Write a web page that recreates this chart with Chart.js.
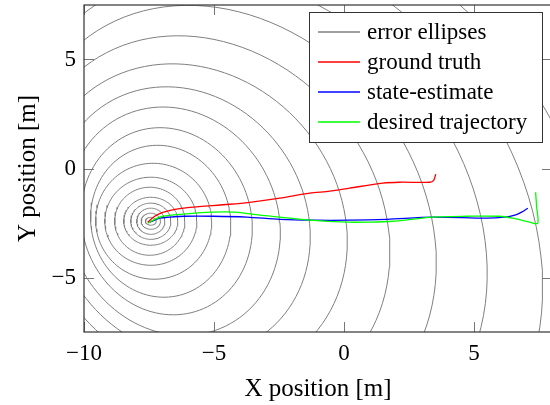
<!DOCTYPE html>
<html lang="en">
<head>
<meta charset="UTF-8">
<title>Error ellipses</title>
<script src="https://cdn.jsdelivr.net/npm/chart.js"></script>
<style>
  html, body { margin: 0; padding: 0; background: #fff; overflow: hidden; }
</style>
</head>
<body>
<canvas id="chart" width="556" height="405"></canvas>
<script>
const xTicks = [-10, -5, 0, 5];
const yTicks = [-5, 0, 5];

// error ellipses: centre, semi-axes (m), tilt (deg)
const ellCx  = [-7.43, -7.43, -7.43, -7.43, -7.43, -7.47, -7.43, -7.32, -7.05, -6.82, -6.55, -6.24, -5.82, -5.2, -4.43, -3.59, -2.63, -1.67];
const ellCy  = [-2.42, -2.42, -2.42, -2.42, -2.42, -2.42, -2.42, -2.42, -2.42, -2.42, -2.42, -2.42, -2.42, -2.42, -2.42, -2.42, -2.42, -2.42];
const ellRx  = [0.21, 0.37, 0.54, 0.77, 1.04, 1.35, 1.77, 2.23, 2.69, 3.27, 4.05, 4.85, 5.8, 6.7, 7.6, 8.6, 9.6, 10.7];
const ellRy  = [0.18, 0.37, 0.60, 0.83, 1.10, 1.56, 2.02, 2.66, 3.49, 4.31, 5.28, 6.24, 7.34, 8.72, 10.2, 11.7, 13.4, 15.1];
const ellAng = [0, 0, 0, 0, 0, 0, 0, 2, 5, 8, 11, 14, 17, 20, 21, 22, 23, 24];

// trajectories
const truthX = [-7.55, -7.28, -6.97, -6.51, -5.93, -4.40, -3.63, -2.47, -1.32, -0.55, 0.22, 1.49, 2.14, 3.30, 3.45, 3.53];
const truthY = [-2.46, -2.19, -2.01, -1.87, -1.78, -1.64, -1.55, -1.36, -1.13, -1.04, -0.90, -0.67, -0.63, -0.63, -0.54, -0.26];
const estX = [-7.47, -7.09, -6.70, -6.13, -5.05, -3.74, -2.47, -1.20, 0.22, 1.64, 3.41, 5.49, 6.18, 6.57, 6.83, 7.07];
const estY = [-2.46, -2.28, -2.23, -2.19, -2.19, -2.23, -2.33, -2.37, -2.37, -2.33, -2.23, -2.28, -2.23, -2.14, -2.00, -1.82];
const desX = [-7.55, -7.28, -6.97, -6.32, -5.05, -4.20, -3.24, -2.47, -1.32, 0.10, 0.98, 1.87, 3.41, 4.72, 5.99, 6.49, 7.14, 7.45, 7.41, 7.37];
const desY = [-2.51, -2.33, -2.19, -2.10, -2.00, -2.00, -2.14, -2.23, -2.37, -2.46, -2.46, -2.42, -2.23, -2.19, -2.19, -2.28, -2.46, -2.51, -1.77, -1.09];

const serif = "'Liberation Serif', 'DejaVu Serif', serif";

function ellipsePoints(i) {
    const pts = [];
    const phi = ellAng[i] * Math.PI / 180;
    for (let k = 0; k <= 120; k++) {
        const t = 2 * Math.PI * k / 120;
        const u = ellRx[i] * Math.cos(t), v = ellRy[i] * Math.sin(t);
        pts.push({
            x: ellCx[i] + u * Math.cos(phi) - v * Math.sin(phi),
            y: ellCy[i] + u * Math.sin(phi) + v * Math.cos(phi)
        });
    }
    return pts;
}

function zip(xs, ys) {
    return xs.map((x, i) => ({ x: x, y: ys[i] }));
}

const datasets = [
    { label: 'ground truth', data: zip(truthX, truthY), borderColor: '#ff0000', order: 1 },
    { label: 'state-estimate', data: zip(estX, estY), borderColor: '#0000ff', order: 3 },
    { label: 'desired trajectory', data: zip(desX, desY), borderColor: '#00ff00', order: 2 }
];
datasets.forEach(d => { d.showLine = true; d.pointRadius = 0; d.borderWidth = 1.3; d.tension = 0.3; });

for (let i = 0; i < ellCx.length; i++) {
    datasets.push({
        label: 'error ellipses', data: ellipsePoints(i), showLine: true, pointRadius: 0,
        borderColor: '#7f7f7f', borderWidth: 1, tension: 0, order: 10
    });
}

const legendItems = [
    ['error ellipses', '#7f7f7f'],
    ['ground truth', '#ff0000'],
    ['state-estimate', '#0000ff'],
    ['desired trajectory', '#00ff00']
];

// frame, inward ticks on all four sides and the legend box
const framePlugin = {
    id: 'frame',
    afterDraw(chart) {
        const { ctx, chartArea: a, scales: { x, y } } = chart;
        ctx.save();
        ctx.strokeStyle = '#777';
        ctx.lineWidth = 1;
        xTicks.forEach(v => {
            const px = Math.round(x.getPixelForValue(v)) + 0.5;
            ctx.beginPath();
            ctx.moveTo(px, a.bottom); ctx.lineTo(px, a.bottom - 10);
            ctx.moveTo(px, a.top); ctx.lineTo(px, a.top + 10);
            ctx.stroke();
        });
        yTicks.forEach(v => {
            const py = Math.round(y.getPixelForValue(v)) + 0.5;
            ctx.beginPath();
            ctx.moveTo(a.left, py); ctx.lineTo(a.left + 10, py);
            ctx.moveTo(a.right, py); ctx.lineTo(a.right - 10, py);
            ctx.stroke();
        });
        ctx.strokeStyle = '#333';
        ctx.lineWidth = 1.2;
        ctx.strokeRect(a.left, a.top, a.right - a.left, a.bottom - a.top);

        // legend
        const bx = 309.5, by = 12.5, bw = 233, bh = 130;
        ctx.fillStyle = '#fff';
        ctx.fillRect(bx, by, bw, bh);
        ctx.strokeStyle = '#333';
        ctx.lineWidth = 1;
        ctx.strokeRect(bx, by, bw, bh);
        ctx.font = '23px ' + serif;
        ctx.textBaseline = 'middle';
        ctx.textAlign = 'left';
        legendItems.forEach((it, i) => {
            const ly = 32 + i * 30;
            ctx.strokeStyle = it[1];
            ctx.lineWidth = 1.3;
            ctx.beginPath();
            ctx.moveTo(318, ly); ctx.lineTo(360, ly);
            ctx.stroke();
            ctx.fillStyle = '#000';
            ctx.fillText(it[0], 367, ly + 1);
        });
        ctx.restore();
    }
};

const minus = v => (v < 0 ? '\u2212' + Math.abs(v) : String(v));

new Chart(document.getElementById('chart'), {
    type: 'scatter',
    data: { datasets: datasets },
    options: {
        responsive: false,
        animation: false,
        layout: { padding: { top: 5, right: 4, left: 0, bottom: 0 } },
        plugins: { legend: { display: false }, tooltip: { enabled: false } },
        scales: {
            x: {
                type: 'linear', min: -10, max: 8,
                grid: { display: false, drawTicks: false },
                border: { display: false },
                afterBuildTicks: s => { s.ticks = xTicks.map(v => ({ value: v })); },
                afterFit: s => { s.height = 73; s.paddingLeft = 0; s.paddingRight = 0; },
                ticks: { color: '#000', padding: 8, font: { family: serif, size: 23 }, callback: minus },
                title: { display: true, text: 'X position [m]', color: '#000', font: { family: serif, size: 25 }, padding: { top: 0, bottom: 1 } }
            },
            y: {
                type: 'linear', min: -7.5, max: 7.5,
                grid: { display: false, drawTicks: false },
                border: { display: false },
                afterBuildTicks: s => { s.ticks = yTicks.map(v => ({ value: v })); },
                afterFit: s => { s.width = 84; s.paddingTop = 0; s.paddingBottom = 0; },
                ticks: { color: '#000', padding: 8, font: { family: serif, size: 23 }, callback: minus },
                title: { display: true, text: 'Y position [m]', color: '#000', font: { family: serif, size: 25 }, padding: { top: 13, bottom: 0 } }
            }
        }
    },
    plugins: [framePlugin]
});
</script>
</body>
</html>
